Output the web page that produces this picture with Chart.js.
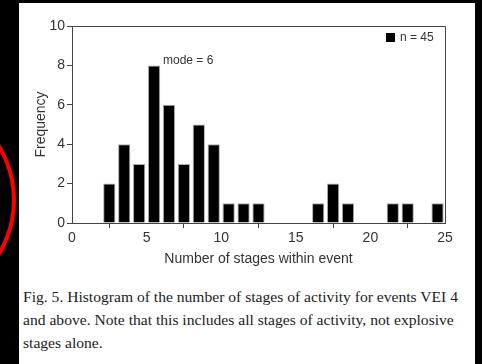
<!DOCTYPE html>
<html>
<head>
<meta charset="utf-8">
<script src="https://cdn.jsdelivr.net/npm/chart.js@4"></script>
<style>
  html, body { margin: 0; padding: 0; background: #000; width: 482px; height: 364px; overflow: hidden; }
  #panel { position: absolute; left: 19px; top: 3px; width: 456px; height: 361px; background: #fff; }
  #chartBox { position: absolute; left: 0; top: 0; width: 456px; height: 265px; }
  #caption {
    position: absolute; left: 4px; top: 282px; width: 450px;
    font-family: "Liberation Serif", "Times New Roman", serif;
    font-size: 15.6px; line-height: 23px; color: #222;
  }
  #ring {
    position: absolute; left: -196px; top: 94px; width: 212px; height: 212px;
    box-sizing: border-box; border: 4px solid #f00; border-radius: 50%;
  }
</style>
</head>
<body>
<div id="ring"></div>
<div id="panel">
  <div id="chartBox"><canvas id="hist"></canvas></div>
  <div id="caption">Fig. 5. Histogram of the number of stages of activity for events VEI 4 and above. Note that this includes all stages of activity, not explosive stages alone.</div>
</div>
<script>
// number of stages (bin upper edge) and how many events fall in each bin
const stages = [3, 4, 5, 6, 7, 8, 9, 10, 11, 12, 13, 14, 15, 16, 17, 18, 19, 20, 21, 22, 23, 24, 25];
const counts = [2, 4, 3, 8, 6, 3, 5, 4, 1, 1, 1, 0, 0, 0, 1, 2, 1, 0, 0, 1, 1, 0, 1];
const xTicks = [0, 5, 10, 15, 20, 25];
const yTicks = [0, 2, 4, 6, 8, 10];
const seriesLabel = "n = 45";
const modeLabel = "mode = 6";

const axisColor = "#444";
const textColor = "#333";
const sans = "'Liberation Sans', Arial, sans-serif";

/* frame, legend and mode note */
const extras = {
  id: "extras",
  afterDraw(chart) {
    const { ctx, chartArea: a, scales } = chart;
    ctx.save();
    ctx.strokeStyle = axisColor;
    ctx.lineWidth = 1;
    ctx.beginPath();
    ctx.moveTo(a.left, a.top + 0.5);
    ctx.lineTo(a.right + 0.5, a.top + 0.5);
    ctx.lineTo(a.right + 0.5, a.bottom);
    ctx.stroke();

    // legend box top right
    ctx.fillStyle = "#000";
    ctx.fillRect(a.right - 59, a.top + 7, 9, 9);
    ctx.fillStyle = textColor;
    ctx.font = "12px " + sans;
    ctx.textBaseline = "middle";
    ctx.textAlign = "left";
    ctx.fillText(seriesLabel, a.right - 45, a.top + 12);

    // mode note beside the tallest bar
    ctx.fillText(modeLabel, scales.x.getPixelForValue(6.1), scales.y.getPixelForValue(8.25));
    ctx.restore();
  }
};

const ctx = document.getElementById("hist").getContext("2d");

new Chart(ctx, {
  type: "bar",
  data: {
    datasets: [{
      label: seriesLabel,
      data: stages.map((s, i) => ({ x: s - 0.5, y: counts[i] })),
      backgroundColor: "#000",
      borderColor: "#aaa",
      borderWidth: 1,
      barPercentage: 1,
      categoryPercentage: 0.82
    }]
  },
  options: {
    responsive: true,
    maintainAspectRatio: false,
    animation: false,
    layout: { padding: { top: 23, right: 30, left: 0, bottom: 0 } },
    plugins: {
      legend: { display: false },
      tooltip: { enabled: false }
    },
    scales: {
      x: {
        type: "linear",
        min: 0,
        max: 25,
        offset: false,
        afterBuildTicks: s => { s.ticks = xTicks.map(v => ({ value: v })); },
        afterFit: s => { s.height = 45; },
        ticks: { color: textColor, font: { family: sans, size: 14 }, padding: 2, maxRotation: 0 },
        grid: { drawOnChartArea: false, tickLength: 5, color: axisColor },
        border: { color: axisColor },
        title: {
          display: true,
          text: "Number of stages within event",
          color: textColor,
          font: { family: sans, size: 14 },
          padding: { top: 6, bottom: 0 }
        }
      },
      y: {
        min: 0,
        max: 10,
        afterBuildTicks: s => { s.ticks = yTicks.map(v => ({ value: v })); },
        afterFit: s => { s.width = 53; },
        ticks: { color: textColor, font: { family: sans, size: 14 }, padding: 2 },
        grid: { drawOnChartArea: false, tickLength: 5, color: axisColor },
        border: { color: axisColor },
        title: {
          display: true,
          text: "Frequency",
          color: textColor,
          font: { family: sans, size: 14 },
          padding: { top: 14, bottom: 0 }
        }
      }
    }
  },
  plugins: [extras]
});
</script>
</body>
</html>
